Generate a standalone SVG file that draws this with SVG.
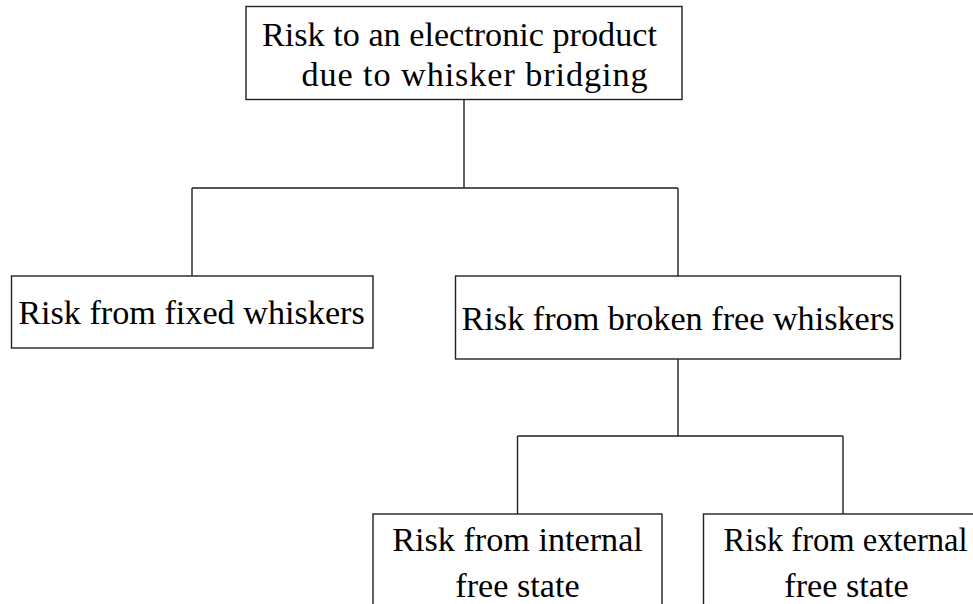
<svg xmlns="http://www.w3.org/2000/svg" width="973" height="604" viewBox="0 0 973 604">
<style>
.box{fill:#fff;stroke:#222;stroke-width:1.4}
.t{font-family:"Liberation Serif","Times New Roman",serif;font-size:34.2px;fill:#000;text-anchor:middle}
.c{fill:none;stroke:#222;stroke-width:1.4}
</style>
<rect width="973" height="604" fill="#fff"/>
<g id="connectors">
<path class="c" d="M464 99.5V188M192 188H678M192 188V276M678 188V276"/>
<path class="c" d="M678 359V436M517.5 436H843M517.5 436V514M843 436V514"/>
</g>
<g id="root">
<rect class="box" x="246" y="6.5" width="436" height="93"/>
<text class="t" x="459.5" y="46">Risk to an electronic product</text>
<text class="t" x="474.5" y="86" textLength="346" lengthAdjust="spacing">due to whisker bridging</text>
</g>
<g id="fixed">
<rect class="box" x="11.5" y="276" width="361.5" height="72"/>
<text class="t" x="191.5" y="324">Risk from fixed whiskers</text>
</g>
<g id="broken">
<rect class="box" x="455.5" y="276" width="445" height="83"/>
<text class="t" x="678" y="330">Risk from broken free whiskers</text>
</g>
<g id="internal">
<rect class="box" x="373" y="514" width="289" height="100"/>
<text class="t" x="517.5" y="550.5">Risk from internal</text>
<text class="t" x="517.5" y="596.5">free state</text>
</g>
<g id="external">
<rect class="box" x="703.5" y="514" width="289" height="100"/>
<text class="t" x="845.5" y="550.5" textLength="244" lengthAdjust="spacingAndGlyphs">Risk from external</text>
<text class="t" x="846.5" y="596.5">free state</text>
</g>
</svg>
